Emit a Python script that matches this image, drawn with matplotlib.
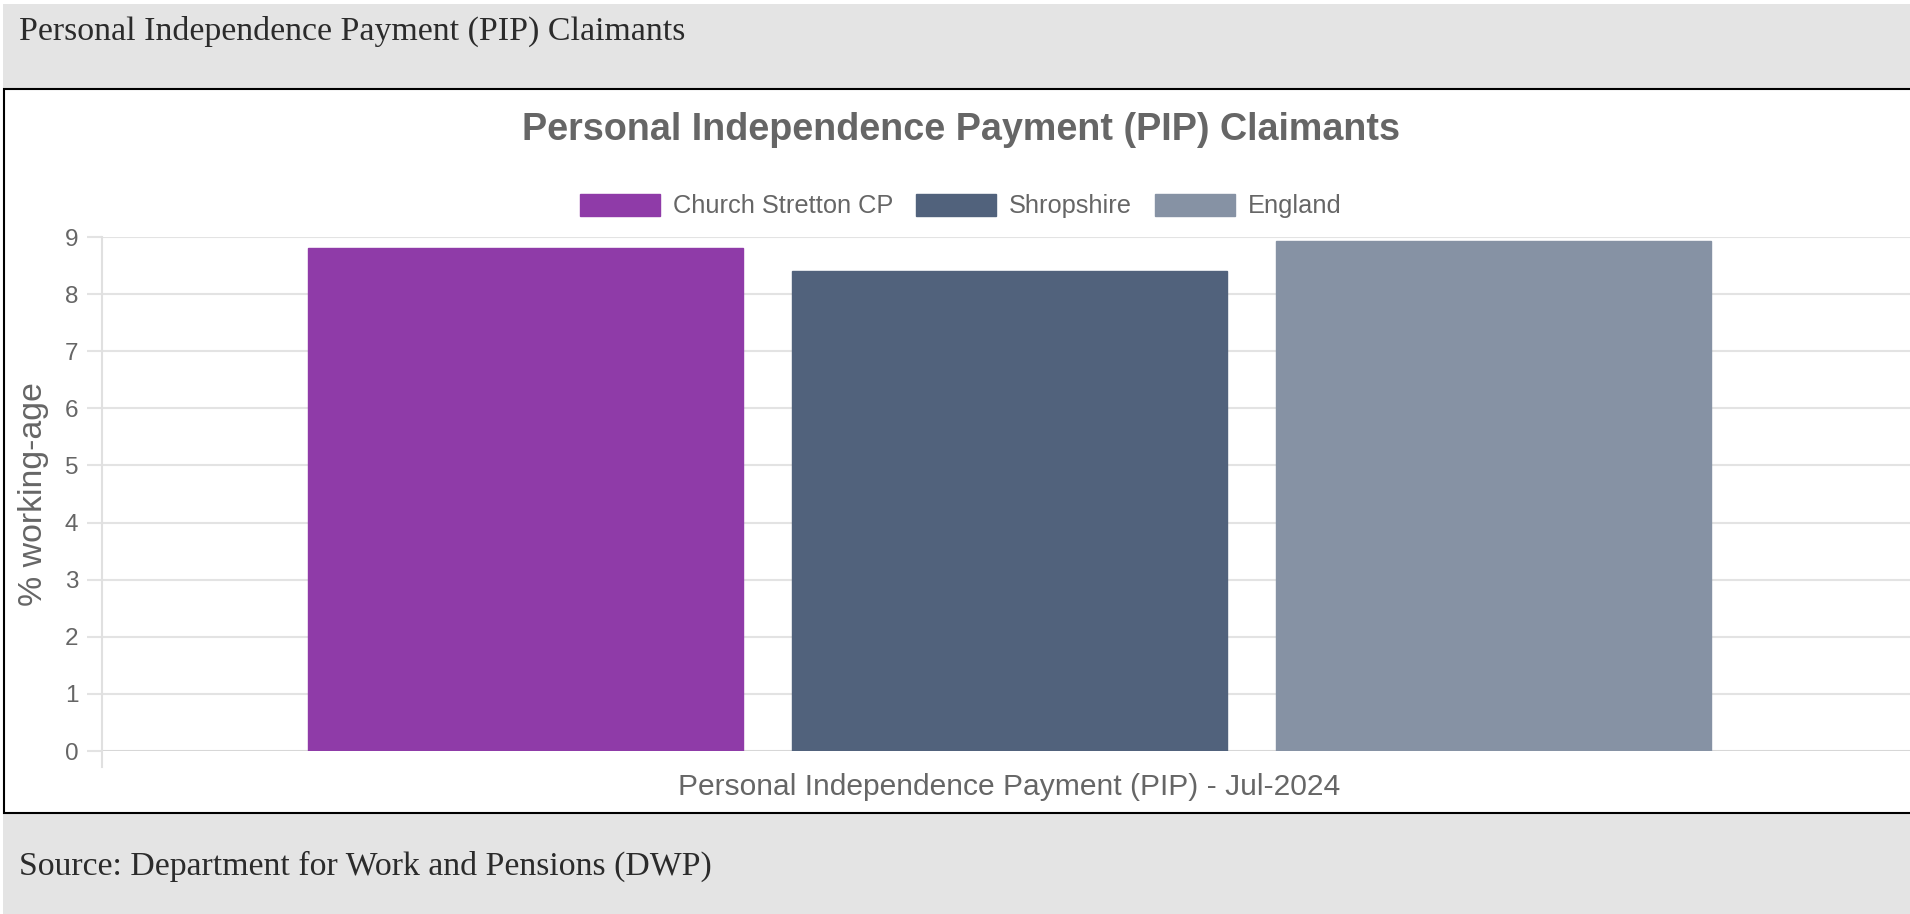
import matplotlib
matplotlib.use("Agg")
import matplotlib.pyplot as plt
from matplotlib.patches import Rectangle
from matplotlib.lines import Line2D
import numpy as np

# ---- data ----
series_names = ["Church Stretton CP", "Shropshire", "England"]
series_values = [8.8, 8.4, 8.93]
series_colors = ["#8F3BA8", "#51627C", "#8692A4"]
category_label = "Personal Independence Payment (PIP) - Jul-2024"
y_ticks = [0, 1, 2, 3, 4, 5, 6, 7, 8, 9]
chart_title = "Personal Independence Payment (PIP) Claimants"
header_text = "Personal Independence Payment (PIP) Claimants"
source_text = "Source: Department for Work and Pensions (DWP)"
y_label = "% working-age"

W, H = 1910, 914
fig = plt.figure(figsize=(W / 100, H / 100), dpi=100)
fig.patch.set_facecolor("white")

def fx(px):
    return px / W

def fy(py):
    return 1 - py / H

# gray page background
fig.patches.append(Rectangle((fx(3), fy(914)), fx(1910), 1 - 4 / H,
                             transform=fig.transFigure, facecolor="#E4E4E4",
                             edgecolor="none", zorder=-3))
# white chart box with black border
fig.patches.append(Rectangle((fx(4), fy(813)), fx(1915 - 4), (813 - 89) / H,
                             transform=fig.transFigure, facecolor="white",
                             edgecolor="black", linewidth=1.5, zorder=-2))

serif = ["Liberation Serif", "DejaVu Serif"]
sans = ["Liberation Sans", "DejaVu Sans"]
fig.text(fx(19), fy(31), header_text, fontsize=24.4, family=serif,
         color="#2B2B2B", ha="left", va="center")
fig.text(fx(19), fy(866), source_text, fontsize=24.3, family=serif,
         color="#2B2B2B", ha="left", va="center")

# axes: plot area from x=102 to 1917, y=237 (9) to 751 (0)
left, right, top, bottom = 102, 1917, 237, 751
ax = fig.add_axes([fx(left), fy(bottom), fx(right - left), (bottom - top) / H])
ax.set_facecolor("none")
ax.set_zorder(2)

n = len(series_values)
bar_slot = 1.0
positions = (np.arange(n) - (n - 1) / 2) * bar_slot
bars = ax.bar(positions, series_values, width=0.9 * bar_slot, color=series_colors,
              edgecolor=series_colors, linewidth=1, zorder=3)
cat_width = n * bar_slot / 0.8
ax.set_xlim(-cat_width / 2, cat_width / 2)
ax.set_ylim(0, 9)
ax.set_yticks(y_ticks)
ax.set_xticks([])
ax.grid(axis="y", color="#E3E3E3", linewidth=1.5, zorder=0)
for s in ["top", "right", "left", "bottom"]:
    ax.spines[s].set_visible(False)
ax.tick_params(axis="y", length=11, width=1.5, color="#E3E3E3", pad=6,
               labelsize=17.5, labelcolor="#666666")
for lab in ax.get_yticklabels():
    lab.set_family(sans)
# zero line slightly darker
ax.axhline(0, color="#D6D6D6", linewidth=2, zorder=2)
# left category grid line extending below zero
ax.add_line(Line2D([0, 0], [-16 / (bottom - top), 1], transform=ax.transAxes,
                   color="#E0E0E0", linewidth=1.5, clip_on=False, zorder=2))

ax.set_ylabel(y_label, fontsize=24.4, color="#666666", family=sans)
ax.yaxis.set_label_coords((34 - left) / (right - left), 0.5)
ax.set_xlabel(category_label, fontsize=21.6, color="#666666", family=sans)
ax.xaxis.set_label_coords((1009 - left) / (right - left), -(787 - bottom) / (bottom - top))
ax.xaxis.label.set_va("center")
ax.yaxis.label.set_va("center")

fig.text(fx(961), fy(130), chart_title, fontsize=27.2, fontweight="bold",
         family=sans, color="#666666", ha="center", va="center", zorder=3)

leg = fig.legend(bars, series_names, loc="center", ncol=3,
                 bbox_to_anchor=(fx(961), fy(206)), frameon=False,
                 prop={"family": sans, "size": 18.3},
                 handlelength=3.15, handleheight=0.95, handletextpad=0.5,
                 columnspacing=0.9)
leg.set_zorder(3)
for t in leg.get_texts():
    t.set_color("#666666")

fig.savefig("out.png", dpi=100, facecolor=fig.get_facecolor())
